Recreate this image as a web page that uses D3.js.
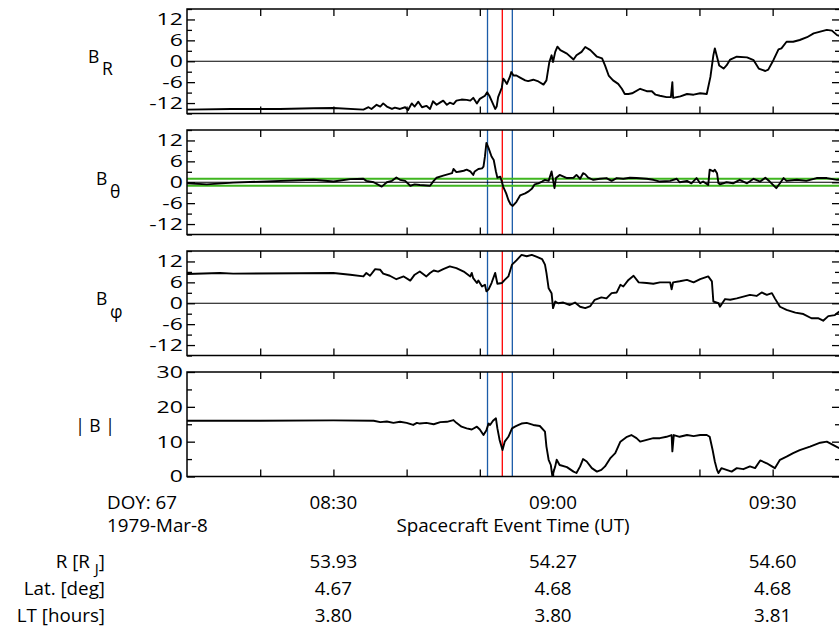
<!DOCTYPE html>
<html>
<head>
<meta charset="utf-8">
<script src="https://cdn.jsdelivr.net/npm/d3@7"></script>
<style>
  body { margin: 0; background: #fff; }
  svg { display: block; font-family: "Open Sans", sans-serif; }
</style>
</head>
<body>
<svg id="chart" width="839" height="627"></svg>
<script>
// ---------- data (time = minutes after 08:00 UT, 1979-Mar-8) ----------

const brData = [
  [10,-13.9],[16,-13.7],[22.7,-13.7],[27.3,-13.5],[30,-13.4],[34.1,-13.9],[34.8,-13.2],[35.2,-13.7],
  [35.9,-12.5],[36.4,-13.0],[36.8,-12.1],[37.3,-13.0],[38.0,-13.7],[38.4,-13.3],[39.1,-13.7],[39.8,-13.2],
  [40.2,-14.0],[40.7,-12.1],[41.1,-13.0],[41.6,-11.6],[42.1,-13.2],[42.7,-12.8],[43.2,-13.7],[43.6,-11.5],
  [44.1,-12.5],[44.6,-11.8],[45.0,-11.3],[45.5,-12.5],[45.9,-11.9],[46.4,-12.3],[46.8,-11.3],[47.5,-11.0],
  [48.2,-11.1],[48.7,-11.3],[49.1,-10.5],[49.6,-12.1],[50.0,-10.8],[50.7,-9.9],[51.0,-8.9],[51.3,-9.9],
  [51.6,-11.3],[52.1,-13.7],[52.3,-13.0],[52.5,-10.3],[53.0,-7.6],[53.2,-5.0],[53.4,-5.5],[53.7,-6.5],
  [54.1,-4.5],[54.3,-3.1],[54.6,-4.1],[55.0,-4.1],[55.5,-4.7],[56.2,-5.5],[56.6,-5.7],[57.3,-5.3],
  [58.0,-5.8],[58.7,-6.7],[59.1,-5.5],[59.5,-0.2],[59.8,1.7],[60.0,-0.2],[60.3,2.7],[60.6,4.2],
  [61.0,3.2],[61.9,2.2],[62.8,0.5],[63.2,1.7],[63.9,2.7],[64.4,4.1],[65.1,3.2],[66.0,1.3],
  [66.7,0.8],[67.1,-1.2],[67.6,-4.1],[68.2,-5.5],[68.9,-6.5],[69.4,-7.9],[69.8,-9.4],[70.3,-9.4],
  [70.8,-9.2],[71.9,-7.9],[72.8,-8.6],[73.5,-8.6],[74.0,-9.6],[74.6,-9.9],[75.5,-10.3],[76.1,-10.3],
  [76.3,-6.0],[76.4,-10.5],[77.4,-10.1],[78.3,-9.4],[79.2,-9.6],[80.1,-9.2],[81.0,-9.4],[81.5,-4.5],
  [81.9,1.7],[82.1,3.7],[82.4,1.3],[82.7,-1.2],[83.3,-2.1],[83.7,-1.2],[84.2,0.5],[85.1,1.3],
  [86.5,1.1],[87.4,0.3],[88.1,-2.1],[89.0,-2.8],[89.4,-2.4],[90.1,0.3],[90.8,3.4],[91.2,3.7],
  [91.9,5.6],[92.8,5.6],[93.7,6.1],[94.7,6.9],[95.6,8.0],[96.5,8.5],[97.4,9.0],[98.1,8.8],
  [98.8,7.5],[99.2,7.2]
];

const bthData = [
  [10,-0.3],[12.7,-0.6],[16.3,-0.1],[27.3,0.7],[30,0.2],[32.3,0.9],[34.1,1.0],[34.5,0.4],
  [35.5,0],[36.6,-1.25],[37.3,0],[38,0.4],[38.6,1.35],[39.1,0.7],[39.8,0.4],[40.5,-1.0],
  [41.1,-0.6],[41.8,-0.8],[43.2,-1.0],[43.7,0.4],[44.1,1.3],[45,1.9],[46.2,2.6],[46.4,3.8],
  [46.8,2.9],[47.3,3.1],[47.8,3.3],[48.2,3.6],[48.7,3.1],[49.1,2.1],[49.3,3.1],[49.8,3.8],
  [50.3,4.0],[50.5,4.5],[50.7,7.4],[50.9,11.3],[51.2,9.8],[51.6,7.4],[51.9,6.4],[52.2,3.1],
  [52.4,1.3],[52.8,1.6],[53.0,0.2],[53.2,-1.3],[53.6,-3.2],[53.9,-5.1],[54.2,-6.3],[54.5,-6.8],
  [55.0,-5.6],[55.5,-3.8],[56.2,-3.2],[56.6,-2.7],[57.1,-1.9],[57.5,-0.6],[58.0,-0.3],[58.5,0.2],
  [58.9,0.7],[59.4,0.4],[59.8,3.1],[60.0,0.7],[60.2,-1.7],[60.4,1.2],[60.9,2.1],[61.9,1.2],
  [62.8,1.3],[63.2,2.1],[63.7,1.0],[64.1,2.6],[64.4,2.3],[64.8,1.3],[65.5,0.7],[66.4,1.0],
  [67.3,1.2],[68.0,0.4],[68.7,1.2],[69.6,1.0],[70.5,1.3],[71.4,1.2],[72.8,1.0],[73.7,0.7],
  [74.6,0.2],[76.0,0.4],[76.9,1.0],[77.3,0],[78.3,0.4],[78.9,-0.3],[79.6,1.2],[80.1,-0.3],
  [80.5,0.2],[81.2,-0.8],[81.4,3.6],[81.9,3.1],[82.1,3.6],[82.4,2.6],[82.6,-0.3],[82.8,-0.6],
  [83.7,0],[84.6,-0.3],[85.5,0.7],[86.5,-0.3],[87.4,1.0],[88.3,0.2],[89.0,1.3],[89.6,0.2],
  [90.5,-1.7],[91.0,-0.3],[91.5,1.2],[91.9,0.4],[93.3,0.7],[94.6,0.4],[96.0,1.2],[97.4,1.2],
  [98.8,0.7],[99.2,0.7]
];

const bphData = [
  [10,8.4],[14.5,8.7],[16.3,8.5],[25.4,8.6],[30,8.7],[32.3,8.2],[34.1,7.7],[34.5,8.7],
  [35.0,7.9],[35.7,9.8],[36.4,9.6],[36.8,8.5],[37.7,7.9],[38.6,6.9],[39.6,7.7],[40.5,6.5],
  [41.1,8.2],[41.8,9.1],[42.7,7.7],[43.2,8.7],[43.7,9.4],[44.3,9.1],[45.0,9.8],[45.9,10.6],
  [46.8,10.1],[47.8,9.1],[48.7,7.7],[48.9,8.7],[49.1,7.2],[49.6,5.8],[49.8,6.5],[50.3,4.8],
  [50.7,5.3],[50.9,3.4],[51.2,4.0],[51.6,5.8],[52.1,8.7],[52.4,5.6],[53.0,5.8],[53.4,6.7],
  [53.9,7.7],[54.4,11.1],[55.0,12.3],[55.7,13.9],[56.4,13.5],[57.1,13.9],[57.8,13.3],[58.5,12.7],
  [58.9,11.1],[59.1,8.7],[59.4,4.3],[59.8,2.9],[60.0,-1.4],[60.3,0.5],[60.7,0],[61.4,0.2],
  [62.3,-0.5],[63.0,0.2],[63.7,-1.0],[64.4,-1.4],[65.1,-0.8],[65.7,1.0],[66.6,1.7],[67.3,1.4],
  [68.0,2.9],[68.7,3.1],[69.2,5.3],[69.6,4.8],[70.3,6.7],[71.0,7.9],[71.7,6.0],[72.8,5.8],
  [73.7,5.6],[74.6,6.0],[76.0,6.0],[76.2,4.0],[76.4,6.0],[77.3,6.3],[78.3,6.7],[79.2,6.0],
  [80.1,6.9],[81.2,7.7],[81.7,6.3],[81.9,0.5],[82.6,0],[82.8,-1.0],[83.5,1.2],[84.2,1.0],
  [85.1,1.4],[86.0,1.9],[86.9,2.4],[87.8,2.1],[88.5,3.1],[89.2,2.4],[89.9,2.9],[90.3,1.4],
  [91.0,-1.0],[91.9,-1.9],[93.1,-2.7],[94.2,-3.1],[95.3,-4.3],[96.2,-4.3],[96.9,-5.0],[97.6,-3.7],
  [98.5,-3.4],[99.1,-2.4]
];

const bmagData = [
  [10,16.0],[20,16.0],[30,16.1],[35.5,16.0],[36.4,15.6],[37.3,15.8],[38.2,15.4],[39.1,15.7],
  [40.0,15.4],[40.9,14.8],[41.4,15.4],[41.8,15.2],[42.7,15.4],[43.7,15.0],[44.6,15.6],[45.5,15.7],
  [46.4,16.2],[46.8,15.4],[47.5,14.3],[48.2,13.8],[48.9,13.5],[49.6,14.3],[50.0,13.5],[50.5,11.9],
  [50.9,13.3],[51.2,15.2],[51.4,14.8],[51.8,16.0],[52.2,16.7],[52.4,13.8],[52.7,10.5],[53.1,7.6],
  [53.4,10.0],[53.9,11.4],[54.4,13.8],[54.8,14.3],[55.3,14.8],[55.7,15.2],[56.4,15.4],[57.3,14.8],
  [58.2,14.5],[58.9,12.9],[59.1,8.6],[59.4,4.8],[59.7,3.3],[59.9,0.2],[60.3,2.9],[60.5,4.8],
  [60.9,3.3],[61.9,2.7],[62.8,1.4],[63.2,1.0],[63.7,2.9],[64.1,5.0],[64.6,4.3],[65.3,2.4],
  [66.0,1.4],[66.6,1.9],[67.1,2.9],[67.8,5.2],[68.5,6.7],[69.2,10.0],[70.1,11.4],[70.7,11.9],
  [71.4,11.0],[71.9,10.0],[72.8,10.5],[73.7,11.0],[74.6,11.0],[75.5,11.4],[76.2,11.9],[76.3,7.2],
  [76.5,11.9],[77.3,11.4],[78.3,11.9],[79.2,11.6],[80.1,11.9],[81.0,11.9],[81.4,11.4],[81.8,7.6],
  [82.1,4.3],[82.4,1.9],[82.6,1.0],[83.0,2.4],[83.7,1.9],[84.4,1.4],[85.1,2.4],[86.0,2.1],
  [86.9,2.9],[87.6,2.4],[88.3,4.6],[89.2,3.8],[89.9,2.9],[90.3,2.4],[91.0,4.8],[91.9,5.7],
  [92.8,6.7],[93.7,7.6],[95.1,8.6],[96.5,9.7],[97.4,10.0],[98.3,9.0],[99.1,8.1]
];

// event markers (minutes after 08:00)
const eventTimes = [51.05, 53.07, 54.44];
const eventColors = ["#1b5ca8", "#ff0000", "#1b5ca8"];

// axis ticks
const fieldTicks = [-12, -6, 0, 6, 12];
const fieldMinor = [-15, -9, -3, 3, 9, 15];
const magTicks = [0, 10, 20, 30];
const magMinor = [5, 15, 25];
const thetaBand = [-1, 1];

const xStart = 10, xEnd = 99.2;
const xTickMinutes = [20, 30, 40, 50, 60, 70, 80, 90];
const labelMinutes = [30, 60, 90];

// ephemeris rows
const ephemLabels = ["R [R", "Lat. [deg]", "LT [hours]"];
const rValues = ["53.93", "54.27", "54.60"];
const latValues = ["4.67", "4.68", "4.68"];
const ltValues = ["3.80", "3.80", "3.81"];

// ---------- helpers ----------

const toTime = (m) => new Date(Date.UTC(1979, 2, 8, 8, 0) + m * 60000);
const fmt = d3.utcFormat("%H:%M");

const svg = d3.select("#chart");
const left = 187, right = 840;
const panelH = 104.5;

const x = d3.scaleUtc().domain([toTime(xStart), toTime(xEnd)]).range([left, right]);

const panels = [
  { data: brData, domain: [-15, 15], major: fieldTicks, minor: fieldMinor, zero: true },
  { data: bthData, domain: [-15, 15], major: fieldTicks, minor: fieldMinor, zero: true, band: thetaBand },
  { data: bphData, domain: [-15, 15], major: fieldTicks, minor: fieldMinor, zero: true },
  { data: bmagData, domain: [0, 30], major: magTicks, minor: magMinor, zero: false },
];

// ---------- panels ----------

panels.forEach((p, i) => {
  const top = 9 + i * 121;
  const bottom = top + panelH;
  const y = d3.scaleLinear().domain(p.domain).range([bottom, top]);
  const g = svg.append("g");

  // event lines
  g.selectAll("line.event")
    .data(eventTimes)
    .join("line")
    .attr("x1", (d) => x(toTime(d)))
    .attr("x2", (d) => x(toTime(d)))
    .attr("y1", top)
    .attr("y2", bottom)
    .attr("stroke", (d, k) => eventColors[k])
    .attr("stroke-width", 1.3);

  if (p.band) {
    g.selectAll("line.band")
      .data(p.band)
      .join("line")
      .attr("x1", left)
      .attr("x2", right)
      .attr("y1", (d) => y(d))
      .attr("y2", (d) => y(d))
      .attr("stroke", "#3fb61f")
      .attr("stroke-width", 2.2);
  }

  if (p.zero) {
    g.append("line")
      .attr("x1", left)
      .attr("x2", right)
      .attr("y1", y(0))
      .attr("y2", y(0))
      .attr("stroke", "#000")
      .attr("stroke-width", 1.2);
  }

  const line = d3.line()
    .x((d) => x(toTime(d[0])))
    .y((d) => y(d[1]));

  g.append("path")
    .datum(p.data)
    .attr("fill", "none")
    .attr("stroke", "#000")
    .attr("stroke-width", 1.9)
    .attr("stroke-linejoin", "round")
    .attr("d", line);

  // y axes (left with labels, right mirrored)
  const yl = g.append("g")
    .attr("transform", `translate(${left},0)`)
    .call(d3.axisLeft(y).tickValues(p.major).tickSize(-8).tickPadding(3).tickFormat((d) => String(d)));
  yl.selectAll("text")
    .attr("font-size", 16.8)
    .attr("font-family", '"Open Sans", sans-serif')
    .attr("transform", "scale(1.37,1)");
  g.append("g")
    .attr("transform", `translate(${left},0)`)
    .call(d3.axisLeft(y).tickValues(p.minor).tickSize(-5).tickFormat(""));
  g.append("g")
    .attr("transform", `translate(${right},0)`)
    .call(d3.axisRight(y).tickValues(p.major).tickSize(-8).tickFormat(""));
  g.append("g")
    .attr("transform", `translate(${right},0)`)
    .call(d3.axisRight(y).tickValues(p.minor).tickSize(-5).tickFormat(""));

  // x ticks top and bottom
  const xt = xTickMinutes.map(toTime);
  g.append("g")
    .attr("transform", `translate(0,${bottom})`)
    .call(d3.axisBottom(x).tickValues(xt).tickSize(-7).tickFormat(""));
  g.append("g")
    .attr("transform", `translate(0,${top})`)
    .call(d3.axisTop(x).tickValues(xt).tickSize(-7).tickFormat(""));

  g.selectAll(".domain").remove();
  g.selectAll(".tick line").attr("stroke-width", 1.3);

  g.append("rect")
    .attr("x", left)
    .attr("y", top)
    .attr("width", right - left)
    .attr("height", panelH)
    .attr("fill", "none")
    .attr("stroke", "#000")
    .attr("stroke-width", 1.5);
});

// ---------- panel labels ----------

const lab = svg.append("g").attr("font-size", 17.5).attr("fill", "#000");
[
  { b: [88, 63], s: [102, 75], sub: "R" },
  { b: [96, 185], s: [110, 198], sub: "θ" },
  { b: [96, 305], s: [110, 318], sub: "φ" },
].forEach((l) => {
  lab.append("text").attr("x", l.b[0]).attr("y", l.b[1]).text("B");
  lab.append("text").attr("x", l.s[0]).attr("y", l.s[1]).text(l.sub);
});
lab.append("text")
  .attr("x", 95)
  .attr("y", 432)
  .attr("text-anchor", "middle")
  .text("| B |");

// ---------- time axis labels ----------

const bt = svg.append("g").attr("font-size", 18.8).attr("fill", "#000");

bt.append("text").attr("x", 107).attr("y", 508.7).text("DOY: 67");
bt.append("text").attr("x", 107).attr("y", 532).text("1979-Mar-8");

bt.selectAll("text.tl")
  .data(labelMinutes)
  .join("text")
  .attr("x", (d) => x(toTime(d)))
  .attr("y", 508.7)
  .attr("text-anchor", "middle")
  .text((d) => fmt(toTime(d)));

bt.append("text")
  .attr("x", 513)
  .attr("y", 532)
  .attr("text-anchor", "middle")
  .text("Spacecraft Event Time (UT)");

// ephemeris
const rowY = [567.5, 594.5, 621.5];
const rowVals = [rValues, latValues, ltValues];

const rLab = bt.append("text").attr("x", 105).attr("y", rowY[0]).attr("text-anchor", "end");
rLab.append("tspan").text("R [R ");
rLab.append("tspan").attr("dy", 6).attr("font-size", 15).text("J");
rLab.append("tspan").attr("dy", -6).text("]");
bt.append("text").attr("x", 105).attr("y", rowY[1]).attr("text-anchor", "end").text(ephemLabels[1]);
bt.append("text").attr("x", 105).attr("y", rowY[2]).attr("text-anchor", "end").text(ephemLabels[2]);

rowVals.forEach((vals, r) => {
  bt.selectAll(null)
    .data(vals)
    .join("text")
    .attr("x", (d, k) => x(toTime(labelMinutes[k])))
    .attr("y", rowY[r])
    .attr("text-anchor", "middle")
    .text((d) => d);
});
</script>
</body>
</html>
